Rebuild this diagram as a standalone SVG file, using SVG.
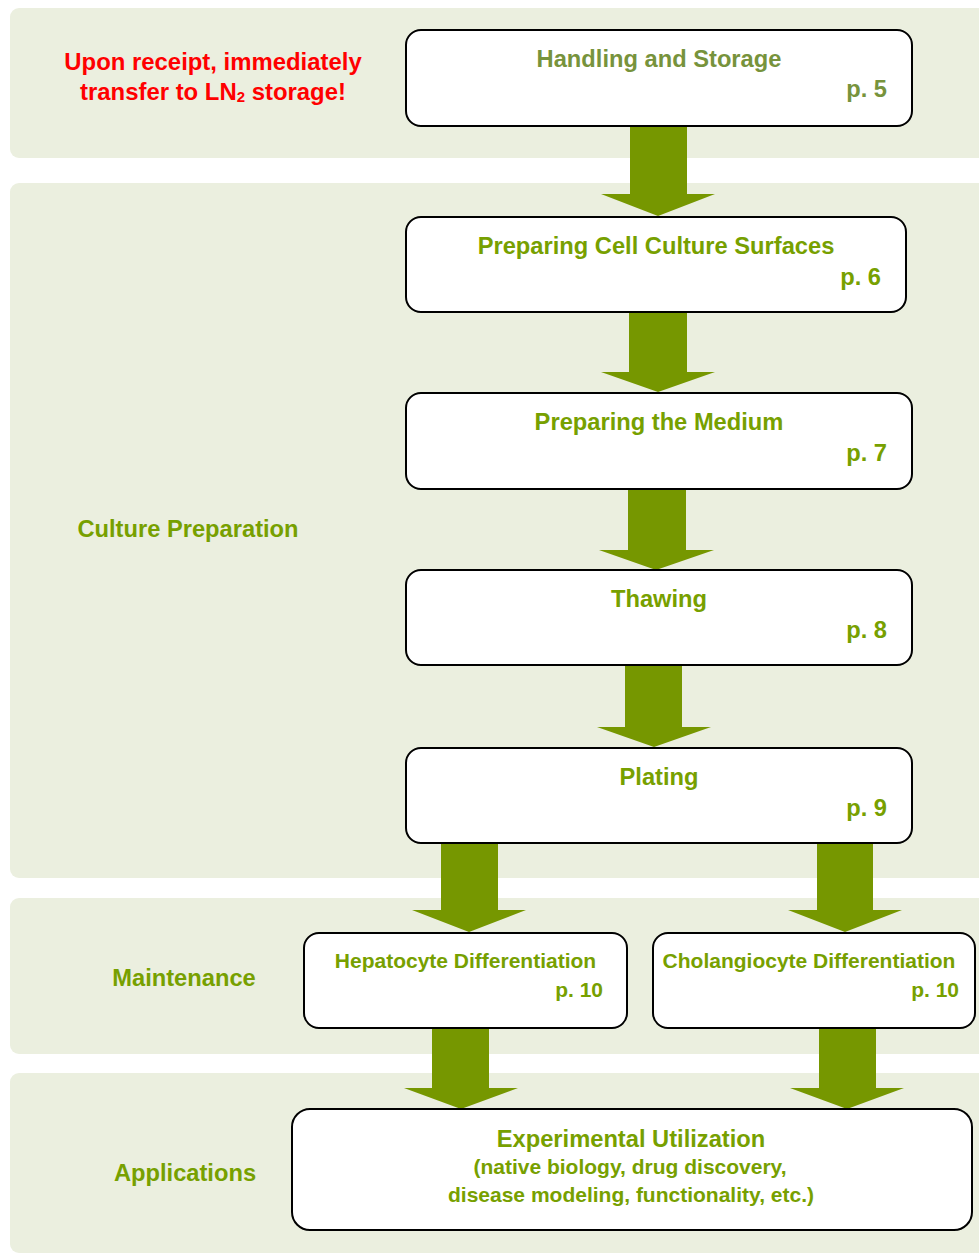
<svg xmlns="http://www.w3.org/2000/svg" width="979" height="1255" viewBox="0 0 979 1255">
<style>
.band{fill:#EBEFDF}
.box{fill:#FFFFFF;stroke:#000000;stroke-width:2}
.arr{fill:#769700}
text{font-family:"Liberation Sans",Arial,sans-serif;font-weight:bold}
.t{fill:#77A000;font-size:23.7px}
.ts{fill:#77A000;font-size:21px}
.h{fill:#77933C;font-size:23.7px}
.lbl{fill:#77A000;font-size:23.7px}
.red{fill:#FF0000;font-size:23.9px}
</style>
<rect width="979" height="1255" fill="#FFFFFF"/>
<g id="bands">
<rect class="band" x="10" y="8" width="990" height="150" rx="9"/>
<rect class="band" x="10" y="183" width="990" height="695" rx="9"/>
<rect class="band" x="10" y="898" width="990" height="156" rx="9"/>
<rect class="band" x="10" y="1073" width="990" height="180" rx="9"/>
</g>
<g id="band-labels">
<text class="red" x="213" y="70" text-anchor="middle">Upon receipt, immediately</text>
<text class="red" x="213" y="100" text-anchor="middle">transfer to LN<tspan font-size="15" dy="2">2</tspan><tspan dy="-2"> storage!</tspan></text>
<text class="lbl" x="188" y="537" text-anchor="middle">Culture Preparation</text>
<text class="lbl" x="184" y="986" text-anchor="middle">Maintenance</text>
<text class="lbl" x="185" y="1181" text-anchor="middle">Applications</text>
</g>
<g id="connectors">
<polygon class="arr" points="630,126 687,126 687,194 715,194 658,216 601,194 630,194"/>
<polygon class="arr" points="629,313 687,313 687,372 715,372 658,392 601,372 629,372"/>
<polygon class="arr" points="628,489 686,489 686,550 714,550 656,570 599,550 628,550"/>
<polygon class="arr" points="625,666 682,666 682,727 711,727 654,747 597,727 625,727"/>
<polygon class="arr" points="441,843 498,843 498,910 526,910 469,932 412,910 441,910"/>
<polygon class="arr" points="817,843 873,843 873,910 902,910 845,932 788,910 817,910"/>
<polygon class="arr" points="432,1029 489,1029 489,1088 518,1088 461,1109 404,1088 432,1088"/>
<polygon class="arr" points="819,1029 876,1029 876,1088 904,1088 847,1109 790,1088 819,1088"/>
</g>
<g id="node-handling">
<rect class="box" x="406" y="30" width="506" height="96" rx="15"/>
<text class="h" x="659" y="67" text-anchor="middle">Handling and Storage</text>
<text class="h" x="887" y="97" text-anchor="end">p. 5</text>
</g>
<g id="node-surfaces">
<rect class="box" x="406" y="217" width="500" height="95" rx="15"/>
<text class="t" x="656" y="254" text-anchor="middle">Preparing Cell Culture Surfaces</text>
<text class="t" x="881" y="285" text-anchor="end">p. 6</text>
</g>
<g id="node-medium">
<rect class="box" x="406" y="393" width="506" height="96" rx="15"/>
<text class="t" x="659" y="430" text-anchor="middle">Preparing the Medium</text>
<text class="t" x="887" y="461" text-anchor="end">p. 7</text>
</g>
<g id="node-thawing">
<rect class="box" x="406" y="570" width="506" height="95" rx="15"/>
<text class="t" x="659" y="607" text-anchor="middle">Thawing</text>
<text class="t" x="887" y="638" text-anchor="end">p. 8</text>
</g>
<g id="node-plating">
<rect class="box" x="406" y="748" width="506" height="95" rx="15"/>
<text class="t" x="659" y="785" text-anchor="middle">Plating</text>
<text class="t" x="887" y="816" text-anchor="end">p. 9</text>
</g>
<g id="node-hepatocyte">
<rect class="box" x="304" y="933" width="323" height="95" rx="15"/>
<text class="ts" x="465.5" y="968" text-anchor="middle">Hepatocyte Differentiation</text>
<text class="ts" x="603" y="997" text-anchor="end">p. 10</text>
</g>
<g id="node-cholangiocyte">
<rect class="box" x="653" y="933" width="322" height="95" rx="15"/>
<text class="ts" x="809" y="968" text-anchor="middle">Cholangiocyte Differentiation</text>
<text class="ts" x="959" y="997" text-anchor="end">p. 10</text>
</g>
<g id="node-experimental">
<rect class="box" x="292" y="1109" width="680" height="121" rx="18"/>
<text class="t" x="631" y="1147" text-anchor="middle">Experimental Utilization</text>
<text class="ts" x="630" y="1174" text-anchor="middle">(native biology, drug discovery,</text>
<text class="ts" x="631" y="1202" text-anchor="middle">disease modeling, functionality, etc.)</text>
</g>
</svg>
